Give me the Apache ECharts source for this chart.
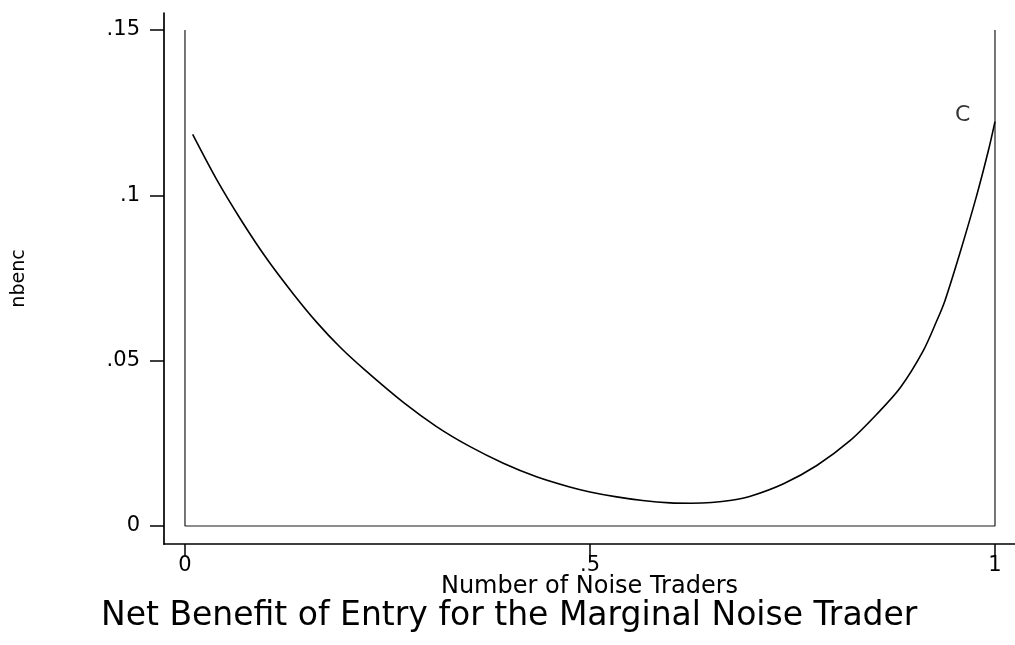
<!DOCTYPE html>
<html>
<head>
<meta charset="utf-8">
<script src="https://cdn.jsdelivr.net/npm/echarts@6/dist/echarts.min.js"></script>
<style>
html,body{margin:0;padding:0;background:#fff;}
#chart{width:1015px;height:645px;}
</style>
</head>
<body>
<div id="chart"></div>
<script>
// ---- data ----
const curveX = [0.0095, 0.039, 0.068, 0.101, 0.134, 0.163, 0.191, 0.222, 0.270, 0.311, 0.352, 0.393, 0.434, 0.475, 0.500, 0.533, 0.565, 0.599, 0.625, 0.650, 0.675, 0.698, 0.739, 0.780, 0.821, 0.854, 0.883, 0.911, 0.928, 0.938, 0.957, 0.977, 0.992, 1.000];
const curveY = [0.1184, 0.1048, 0.0930, 0.0808, 0.0701, 0.0615, 0.0542, 0.0472, 0.0373, 0.0300, 0.0240, 0.0190, 0.0149, 0.0118, 0.0103, 0.0088, 0.0077, 0.0070, 0.0069, 0.0071, 0.0078, 0.0090, 0.0128, 0.0183, 0.0258, 0.0338, 0.0418, 0.0528, 0.0620, 0.0680, 0.0828, 0.0996, 0.1137, 0.1223];
const frameX = [0, 0, 1, 1];
const frameY = [0.15, 0, 0, 0.15];
const markX = [0.96];
const markY = [0.1243];
const markText = ['C'];
const xTicks = [0, 0.5, 1];
const xTickLabels = ['0', '.5', '1'];
const yTicks = [0, 0.05, 0.1, 0.15];
const yTickLabels = ['0', '.05', '.1', '.15'];
const xTitle = 'Number of Noise Traders';
const yTitle = 'nbenc';
const chartTitle = 'Net Benefit of Entry for the Marginal Noise Trader';

const FONT = 'DejaVu Sans';
function lookup(ticks, labels, v) {
  for (let i = 0; i < ticks.length; i++) if (Math.abs(ticks[i] - v) < 1e-9) return labels[i];
  return '';
}
const chart = echarts.init(document.getElementById('chart'), null, {renderer: 'canvas'});
chart.setOption({
  animation: false,
  backgroundColor: '#fff',
  title: {
    text: chartTitle,
    left: 96,
    top: 595,
    textStyle: {fontFamily: FONT, fontSize: 33, fontWeight: 'normal', color: '#000'}
  },
  grid: {left: 164, right: 0, top: 13, bottom: 101, containLabel: false, outerBoundsMode: 'none'},
  xAxis: {
    type: 'value',
    min: -0.0259,
    max: 1.0247,
    name: xTitle,
    nameLocation: 'middle',
    nameGap: 31,
    nameMoveOverlap: false,
    nameTextStyle: {fontFamily: FONT, fontSize: 24, color: '#000'},
    axisLine: {show: true, onZero: false, lineStyle: {color: '#000', width: 1.7}},
    axisTick: {show: true, customValues: xTicks, length: 12, lineStyle: {color: '#000', width: 1.5}},
    axisLabel: {show: true, customValues: xTicks, margin: 11, fontFamily: FONT, fontSize: 21, color: '#000',
      formatter: v => lookup(xTicks, xTickLabels, v)},
    splitLine: {show: false}
  },
  yAxis: {
    type: 'value',
    min: -0.00544,
    max: 0.15514,
    name: yTitle,
    nameLocation: 'middle',
    nameGap: 135,
    nameMoveOverlap: false,
    nameTextStyle: {fontFamily: FONT, fontSize: 19, color: '#000'},
    axisLine: {show: true, onZero: false, lineStyle: {color: '#000', width: 1.7}},
    axisTick: {show: true, customValues: yTicks, length: 14, lineStyle: {color: '#000', width: 1.5}},
    axisLabel: {show: true, customValues: yTicks, margin: 24, fontFamily: FONT, fontSize: 21, color: '#000',
      formatter: v => lookup(yTicks, yTickLabels, v)},
    splitLine: {show: false}
  },
  series: [
    {
      type: 'line',
      data: frameX.map((x, i) => [x, frameY[i]]),
      symbol: 'none',
      silent: true,
      lineStyle: {color: '#1a1a1a', width: 1.2}
    },
    {
      type: 'line',
      data: curveX.map((x, i) => [x, curveY[i]]),
      symbol: 'none',
      smooth: 0.3,
      silent: true,
      lineStyle: {color: '#000', width: 1.6}
    },
    {
      type: 'scatter',
      data: markX.map((x, i) => ({value: [x, markY[i]], name: markText[i]})),
      symbolSize: 0,
      silent: true,
      label: {show: true, position: 'inside', formatter: p => p.name,
        fontFamily: FONT, fontSize: 22, color: '#000'}
    }
  ]
});
</script>
</body>
</html>
